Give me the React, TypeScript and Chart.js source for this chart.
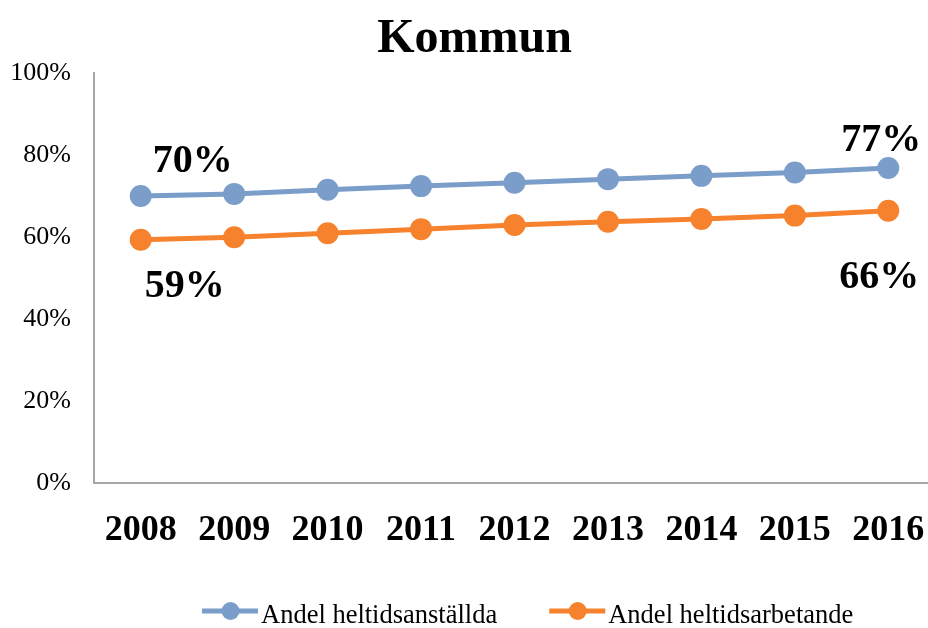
import React, { useEffect, useRef } from "react";
import { Chart, registerables } from "chart.js";

Chart.register(...registerables);

const chartTitle = "Kommun";
const years = ["2008", "2009", "2010", "2011", "2012", "2013", "2014", "2015", "2016"];
const seriesNames = ["Andel heltidsanställda", "Andel heltidsarbetande"];
const anstallda = [70.0, 70.5, 71.5, 72.4, 73.2, 74.1, 74.9, 75.7, 76.8];
const arbetande = [59.3, 59.9, 60.9, 61.9, 62.9, 63.7, 64.4, 65.2, 66.4];
const yMin = 0;
const yMax = 100;
const yStep = 20;

const seriesColors = ["#7B9DC9", "#F6822D"];
const FONT = '"Liberation Serif", "Times New Roman", serif';
const AXIS_GRAY = "#a6a6a6";

// label offsets (style only): [dx, dy] for first and last point of each series
const labelOffsets = [
  { first: [52, -34], last: [-7, -27] },
  { first: [44, 47], last: [-9, 67] },
];

const dataLabelsPlugin = {
  id: "endLabels",
  afterDatasetsDraw(chart: any) {
    const ctx = chart.ctx;
    ctx.save();
    ctx.font = `bold 40px ${FONT}`;
    ctx.fillStyle = "#000";
    ctx.textAlign = "center";
    ctx.textBaseline = "middle";
    chart.data.datasets.forEach((ds: any, i: number) => {
      const meta = chart.getDatasetMeta(i);
      const n = ds.data.length;
      const idxs = [0, n - 1];
      idxs.forEach((idx, k) => {
        const pt = meta.data[idx];
        const off = k === 0 ? labelOffsets[i].first : labelOffsets[i].last;
        const txt = Math.round(ds.data[idx]) + "%";
        ctx.fillText(txt, pt.x + off[0], pt.y + off[1]);
      });
    });
    ctx.restore();
  },
};

const legendPlugin = {
  id: "customLegend",
  afterDraw(chart: any) {
    const ctx = chart.ctx;
    ctx.save();
    ctx.font = `26.5px ${FONT}`;
    ctx.textBaseline = "alphabetic";
    ctx.textAlign = "left";
    const y = 611;
    let x = 202;
    chart.data.datasets.forEach((ds: any) => {
      const color = ds.borderColor;
      ctx.strokeStyle = color;
      ctx.lineWidth = 5;
      ctx.beginPath();
      ctx.moveTo(x, y);
      ctx.lineTo(x + 56, y);
      ctx.stroke();
      ctx.fillStyle = color;
      ctx.beginPath();
      ctx.arc(x + 28.5, y, 9, 0, Math.PI * 2);
      ctx.fill();
      ctx.fillStyle = "#000";
      ctx.fillText(ds.label, x + 59, y + 12);
      const w = ctx.measureText(ds.label).width;
      x += 59 + w + 52;
    });
    ctx.restore();
  },
};

export default function App() {
  const canvasRef = useRef<HTMLCanvasElement | null>(null);

  useEffect(() => {
    document.body.style.margin = "0";
    const canvas = canvasRef.current;
    if (!canvas) return;
    const datasets = [anstallda, arbetande].map((vals, i) => ({
      label: seriesNames[i],
      data: vals,
      borderColor: seriesColors[i],
      backgroundColor: seriesColors[i],
      pointBackgroundColor: seriesColors[i],
      pointBorderWidth: 0,
      pointRadius: 11,
      borderWidth: 5,
      tension: 0,
      fill: false,
    }));
    const chart = new Chart(canvas, {
      type: "line",
      data: { labels: years, datasets },
      plugins: [dataLabelsPlugin, legendPlugin],
      options: {
        animation: false,
        responsive: false,
        devicePixelRatio: 1,
        layout: { padding: { left: 8, right: 5, top: 0, bottom: 50 } },
        plugins: {
          legend: { display: false },
          tooltip: { enabled: false },
          title: {
            display: true,
            text: chartTitle,
            color: "#000",
            font: { family: FONT, size: 48, weight: "bold" },
            padding: { top: 11, bottom: 4.4 },
          },
        },
        scales: {
          x: {
            type: "category",
            offset: true,
            grid: { display: false, drawTicks: false },
            border: { display: true, color: AXIS_GRAY, width: 2 },
            afterFit: (scale: any) => {
              scale.paddingLeft = 0;
              scale.paddingRight = 0;
            },
            ticks: {
              color: "#000",
              font: { family: FONT, size: 36, weight: "bold" },
              padding: 26,
              maxRotation: 0,
              autoSkip: false,
            },
          },
          y: {
            min: yMin,
            max: yMax,
            grid: { display: false, drawTicks: false },
            border: { display: true, color: AXIS_GRAY, width: 2 },
            afterFit: (scale: any) => {
              scale.width = 86;
            },
            ticks: {
              stepSize: yStep,
              color: "#000",
              font: { family: FONT, size: 26 },
              padding: 23,
              callback: (v: any) => v + "%",
            },
          },
        },
      },
    });
    return () => chart.destroy();
  }, []);

  return (
    <div
      style={{
        position: "fixed",
        left: 0,
        top: 0,
        width: 928,
        height: 628,
        overflow: "hidden",
        background: "#fff",
      }}
    >
      <canvas ref={canvasRef} width={946} height={628} style={{ width: 946, height: 628, display: "block" }} />
    </div>
  );
}
